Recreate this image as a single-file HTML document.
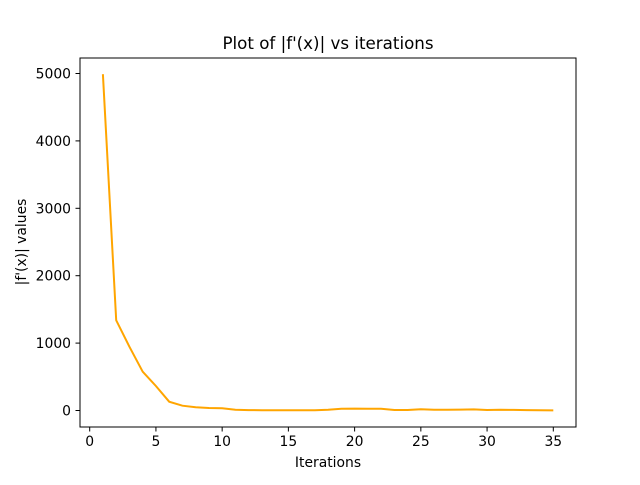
<!DOCTYPE html>
<html><head><meta charset="utf-8"><style>
body{margin:0;background:#fff;}
svg text{font-family:"DejaVu Sans","Liberation Sans",sans-serif;fill:#000;}
</style></head><body>
<svg width="640" height="480" viewBox="0 0 640 480">
<rect width="640" height="480" fill="#fff"/>
<g id="plot"></g>
<script>
const iterations=[1,2,3,4,5,6,7,8,9,10,11,12,13,14,15,16,17,18,19,20,21,22,23,24,25,26,27,28,29,30,31,32,33,34,35];
const values=[4990,1339,947,576,364,130,71,47,37,33,12,6,5,4,4,4,5,12,27,28,25,25,8,7,20,12,12,14,16,8,10,9,6,3,2];
const xTicks=[0,5,10,15,20,25,30,35];
const yTicks=[0,1000,2000,3000,4000,5000];
const L=80,R=576,T=58,B=427;
const xs=v=>89.7+(v-0)*(553.3-89.7)/35;
const ys=v=>410.5-v*(410.5-73.5)/5000;
const NS='http://www.w3.org/2000/svg';
const g=document.getElementById('plot');
function mk(t,a){const e=document.createElementNS(NS,t);for(const k in a)e.setAttribute(k,a[k]);g.appendChild(e);return e;}
const pts=iterations.map((x,i)=>xs(x).toFixed(1)+','+ys(values[i]).toFixed(1)).join(' ');
const line=mk('polyline',{points:pts,fill:'none',stroke:'#ffa500','stroke-width':2});


const frame=mk('rect',{x:L,y:T,width:R-L,height:B-T,fill:'none',stroke:'#000','stroke-width':1});


xTicks.forEach(t=>{const x=xs(t);
const tk=mk('line',{x1:x,x2:x,y1:B,y2:B+4.5,stroke:'#000','stroke-width':1});


const tx=mk('text',{x:x,y:B+19,'text-anchor':'middle','font-size':13.9});tx.textContent=t;

});
yTicks.forEach(t=>{const y=ys(t);
const tk=mk('line',{x1:L-4.5,x2:L,y1:y,y2:y,stroke:'#000','stroke-width':1});


const tx=mk('text',{x:L-9,y:y+5,'text-anchor':'end','font-size':13.9});tx.textContent=t;

});
</script>
<text x="328" y="49" text-anchor="middle" font-size="16.7">Plot of |f'(x)| vs iterations</text>
<text x="328" y="467" text-anchor="middle" font-size="13.9">Iterations</text>
<text x="26" y="242" text-anchor="middle" font-size="13.9" transform="rotate(-90 26 242)">|f'(x)| values</text>
</svg>
</body></html>
